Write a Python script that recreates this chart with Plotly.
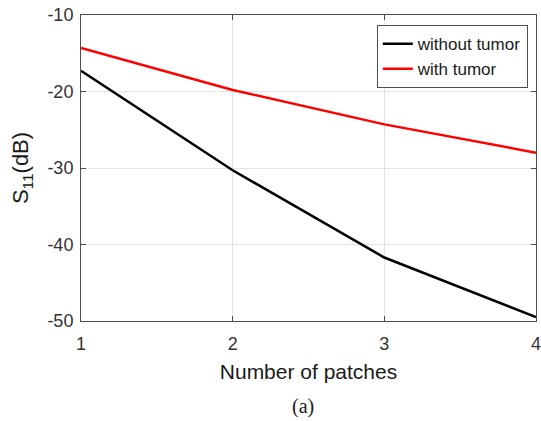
import plotly.graph_objects as go

patches = [1, 2, 3, 4]
without_tumor = [-17.3, -30.3, -41.7, -49.5]
with_tumor = [-14.3, -19.8, -24.3, -28.0]
x_ticks = [1, 2, 3, 4]
y_ticks = [-50, -40, -30, -20, -10]
y_tick_text = ["-50", "-40", "-30", "-20", "-10"]

fig = go.Figure()
fig.add_trace(go.Scatter(x=patches, y=without_tumor, mode="lines", name="without tumor",
                         line=dict(color="black", width=2.5)))
fig.add_trace(go.Scatter(x=patches, y=with_tumor, mode="lines", name="with tumor",
                         line=dict(color="#ff0000", width=2.5)))

FONT = "Liberation Sans, Arial"
axis_common = dict(showline=True, linecolor="#4d4d4d", linewidth=1, mirror="ticks",
                   ticks="inside", ticklen=5, tickcolor="#4d4d4d",
                   showgrid=True, gridcolor="#e3e3e3", gridwidth=1, zeroline=False,
                   automargin=False, ticklabeloverflow="allow",
                   tickfont=dict(family=FONT, size=18, color="#333333"))

fig.update_layout(
    width=541, height=421,
    margin=dict(l=81, r=5, t=15, b=100),
    paper_bgcolor="white", plot_bgcolor="white",
    xaxis=dict(range=[1, 4], tickvals=x_ticks, ticklabelstandoff=6, **axis_common,
               title=dict(text="Number of patches", standoff=11,
                          font=dict(family=FONT, size=21, color="#1a1a1a"))),
    yaxis=dict(range=[-50, -10], tickvals=y_ticks, ticktext=y_tick_text,
               ticklabelstandoff=3, **axis_common,
               title=dict(text="S<sub>11</sub>(dB)", standoff=12,
                          font=dict(family=FONT, size=22, color="#1a1a1a"))),
    legend=dict(x=0.982, y=0.967, xanchor="right", yanchor="top",
                bgcolor="white", bordercolor="#4d4d4d", borderwidth=1,
                font=dict(family=FONT, size=17, color="#1a1a1a"),
                itemwidth=30, tracegroupgap=0),
    showlegend=True,
)

fig.add_annotation(text="(a)", xref="paper", yref="paper", x=0.488, y=-0.281,
                   xanchor="center", yanchor="middle", showarrow=False,
                   font=dict(family="Liberation Serif, Times New Roman", size=20, color="#1a1a1a"))

fig.write_html("out.html")
